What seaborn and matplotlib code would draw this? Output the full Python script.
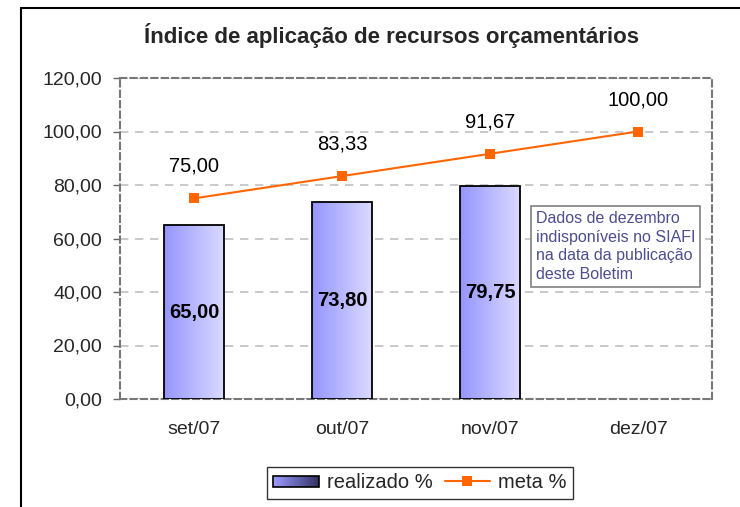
import matplotlib
matplotlib.use('Agg')
import matplotlib.pyplot as plt
import matplotlib.patches as mpatches
import matplotlib.colors as mcolors
from matplotlib.legend_handler import HandlerBase
from matplotlib.lines import Line2D
import seaborn as sns
import pandas as pd
import numpy as np

# Dados
meses = ['set/07', 'out/07', 'nov/07', 'dez/07']
realizado = [65.00, 73.80, 79.75]
meta = [75.00, 83.33, 91.67, 100.00]
yticks = [0, 20, 40, 60, 80, 100, 120]
nota = 'Dados de dezembro\nindisponíveis no SIAFI\nna data da publicação\ndeste Boletim'


def fmt(v):
    return f'{v:.2f}'.replace('.', ',')


class GradientHandler(HandlerBase):
    # desenha o retangulo da legenda com degradê
    def create_artists(self, legend, orig_handle, xdescent, ydescent, width, height, fontsize, trans):
        cmap = mcolors.LinearSegmentedColormap.from_list('leg', ['#9999FF', '#333366'])
        n = 30
        h = height * 0.8
        y0 = -ydescent + (height - h) / 2
        arts = []
        for k in range(n):
            arts.append(mpatches.Rectangle((-xdescent + width * k / n, y0), width / n + 0.3, h,
                                           facecolor=cmap(k / (n - 1)), edgecolor='none', transform=trans))
        arts.append(mpatches.Rectangle((-xdescent, y0), width, h, facecolor='none',
                                       edgecolor='black', lw=1.2, transform=trans))
        return arts


sns.set_theme(style='white')
plt.rcParams['font.family'] = ['Liberation Sans', 'DejaVu Sans']

fig = plt.figure(figsize=(7.4, 5.07), dpi=100)
ax = fig.add_axes([120 / 740, 1 - 399 / 507, 592 / 740, 321 / 507])

df_bar = pd.DataFrame({'mes': meses[:len(realizado)], 'valor': realizado})
sns.barplot(data=df_bar, x='mes', y='valor', order=meses, width=0.4, color='#9999FF',
            edgecolor='black', linewidth=1.3, errorbar=None, ax=ax, zorder=3)

# degradê nas barras
cmap_bar = mcolors.LinearSegmentedColormap.from_list('bar', ['#9595FF', '#DADAFF'])
grad = np.linspace(0, 1, 256).reshape(1, -1)
barras = list(ax.patches)
for p in barras:
    x0, y0, w, h = p.get_x(), p.get_y(), p.get_width(), p.get_height()
    im = ax.imshow(grad, cmap=cmap_bar, extent=[x0, x0 + w, y0, y0 + h], aspect='auto', zorder=3)
    im.set_clip_path(p)
    p.set_facecolor('none')
    p.set_zorder(4)

sns.lineplot(x=np.arange(len(meta)), y=meta, color='#FF6600', marker='s', markersize=7,
             markeredgewidth=0, linewidth=1.5, ax=ax, zorder=5)

ax.set_xlim(-0.5, len(meses) - 0.5)
ax.set_ylim(0, 120)
ax.set_xlabel('')
ax.set_ylabel('')
ax.set_yticks(yticks)
ax.set_yticklabels([fmt(v) for v in yticks], fontsize=14)
ax.set_xticks(range(len(meses)))
ax.set_xticklabels(meses, fontsize=14)
ax.tick_params(axis='x', length=0, pad=16)
ax.tick_params(axis='y', left=True, length=5, width=1, color='#666666', direction='out', pad=8)
ax.yaxis.grid(True, color='#C0C0C0', linestyle=(0, (5, 4)), linewidth=1.2)
ax.xaxis.grid(False)
ax.set_axisbelow(True)
for s in ax.spines.values():
    s.set_visible(True)
    s.set_color('#777777')
    s.set_linestyle((0, (3, 2)))
    s.set_linewidth(1.5)

# rotulos
for i, v in enumerate(realizado):
    ax.text(i, v / 2, fmt(v), ha='center', va='center', fontsize=14.5, fontweight='bold', color='black', zorder=6)
for i, v in enumerate(meta):
    ax.annotate(fmt(v), (i, v), xytext=(0, 23), textcoords='offset points',
                ha='center', va='center', fontsize=14.5, color='black')

ax.text(0.703, 0.475, nota, transform=ax.transAxes, ha='left', va='center', fontsize=11.5,
        color='#4D4D8F', linespacing=1.32,
        bbox=dict(boxstyle='square,pad=0.3', fc='white', ec='#808080', lw=1.2), zorder=7)

fig.text(391 / 740, 1 - 35 / 507, 'Índice de aplicação de recursos orçamentários',
         ha='center', va='center', fontsize=16, fontweight='bold')

handles = [mpatches.Patch(label='realizado %'),
           Line2D([], [], color='#FF6600', marker='s', ms=7, mew=0, lw=1.5, label='meta %')]
leg = fig.legend(handles=handles, loc='center', bbox_to_anchor=(420 / 740, 1 - 483 / 507), ncol=2,
                 frameon=True, fancybox=False, edgecolor='black', fontsize=14.5,
                 handler_map={mpatches.Patch: GradientHandler()}, handlelength=2.25,
                 columnspacing=0.6, borderpad=0.3, handletextpad=0.4)
leg.get_frame().set_linewidth(1.0)

# moldura externa
fig.add_artist(Line2D([21 / 740, 21 / 740], [0, 1 - 8 / 507], color='black', lw=1.5, transform=fig.transFigure))
fig.add_artist(Line2D([21 / 740, 1], [1 - 8 / 507, 1 - 8 / 507], color='black', lw=1.5, transform=fig.transFigure))

plt.savefig('out.png', dpi=100)
